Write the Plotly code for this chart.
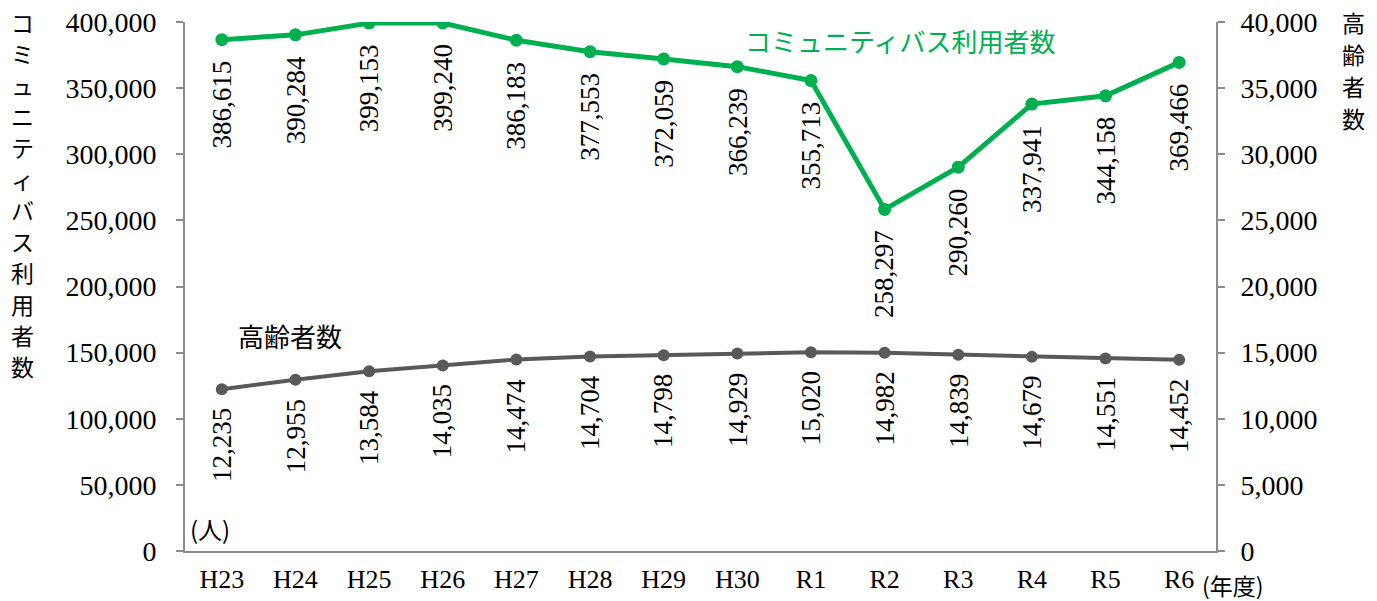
import plotly.graph_objects as go

categories = ["H23", "H24", "H25", "H26", "H27", "H28", "H29", "H30", "R1", "R2", "R3", "R4", "R5", "R6"]
bus_users = [386615, 390284, 399153, 399240, 386183, 377553, 372059, 366239, 355713, 258297, 290260, 337941, 344158, 369466]
elderly = [12235, 12955, 13584, 14035, 14474, 14704, 14798, 14929, 15020, 14982, 14839, 14679, 14551, 14452]

left_ticks = list(range(0, 400001, 50000))
right_ticks = list(range(0, 40001, 5000))

left_title = "コミュニティバス利用者数"
right_title = "高齢者数"

GREEN = "#00B050"
GRAY = "#595959"
AXIS = "#8C8C8C"
SERIF = "Liberation Serif"
JP = "Noto Sans CJK JP"

xs = list(range(len(categories)))

fig = go.Figure()
fig.add_trace(go.Scatter(x=xs, y=bus_users, mode="lines+markers",
                         line=dict(color=GREEN, width=5),
                         marker=dict(color=GREEN, size=13), yaxis="y"))
fig.add_trace(go.Scatter(x=xs, y=elderly, mode="lines+markers",
                         line=dict(color=GRAY, width=4),
                         marker=dict(color=GRAY, size=12), yaxis="y2"))

ann = []
for i, v in enumerate(bus_users):
    ann.append(dict(x=i, y=v, xref="x", yref="y", text=f"{v:,}", textangle=-90,
                    showarrow=False, yanchor="top", xanchor="center", yshift=-19,
                    font=dict(family=SERIF, size=27, color="black")))
for i, v in enumerate(elderly):
    ann.append(dict(x=i, y=v, xref="x", yref="y2", text=f"{v:,}", textangle=-90,
                    showarrow=False, yanchor="top", xanchor="center", yshift=-17,
                    font=dict(family=SERIF, size=27, color="black")))

# pixel-positioned labels (converted to paper fractions below)
px_ann = []
px_ann.append(dict(x=743, y=40, text="コミュニティバス利用者数", xanchor="left",
                   font=dict(family=JP, size=26, color=GREEN)))
px_ann.append(dict(x=236, y=335, text="高齢者数", xanchor="left",
                   font=dict(family=JP, size=26, color="black")))
px_ann.append(dict(x=188, y=528, text="(人)", xanchor="left",
                   font=dict(family=JP, size=24, color="black")))
px_ann.append(dict(x=1200, y=585, text="(年度)", xanchor="left",
                   font=dict(family=JP, size=23, color="black")))
for k, ch in enumerate(left_title):
    px_ann.append(dict(x=22, y=22 + 31.3 * k, text=ch, xanchor="center",
                       font=dict(family=JP, size=23, color="black")))
for k, ch in enumerate(right_title):
    px_ann.append(dict(x=1353, y=22 + 32 * k, text=ch, xanchor="center",
                       font=dict(family=JP, size=23, color="black")))

L, R, T, B = 185, 161, 22, 50
W, H = 1377, 601
pw, ph = W - L - R, H - T - B
for a in px_ann:
    a.update(xref="paper", yref="paper", showarrow=False, yanchor="middle",
             x=(a["x"] - L) / pw, y=(H - a["y"] - B) / ph)
    ann.append(a)

fig.update_layout(
    width=W, height=H,
    margin=dict(l=L, r=R, t=T, b=B, autoexpand=False),
    plot_bgcolor="white", paper_bgcolor="white",
    showlegend=False,
    xaxis=dict(tickvals=xs, ticktext=categories, range=[-0.5, len(categories) - 0.5],
               showline=True, linecolor=AXIS, linewidth=2, showgrid=False, zeroline=False,
               ticks="", automargin=False, ticklabelstandoff=4,
               tickfont=dict(family=SERIF, size=26, color="black")),
    yaxis=dict(range=[0, 400000], tickvals=left_ticks, ticktext=[f"{t:,}" for t in left_ticks],
               showline=True, linecolor=AXIS, linewidth=2, showgrid=False, zeroline=False,
               ticks="outside", ticklen=7, tickcolor=AXIS, tickwidth=2, automargin=False,
               ticklabelstandoff=14,
               tickfont=dict(family=SERIF, size=28, color="black")),
    yaxis2=dict(range=[0, 40000], tickvals=right_ticks, ticktext=[f"{t:,}" for t in right_ticks],
                overlaying="y", side="right",
                showline=True, linecolor=AXIS, linewidth=2, showgrid=False, zeroline=False,
                ticks="outside", ticklen=7, tickcolor=AXIS, tickwidth=2, automargin=False,
                ticklabelstandoff=10,
                tickfont=dict(family=SERIF, size=28, color="black")),
    annotations=ann,
)

fig.write_html("out.html", config={"displayModeBar": False},
               post_script="document.body.style.margin='0';")
